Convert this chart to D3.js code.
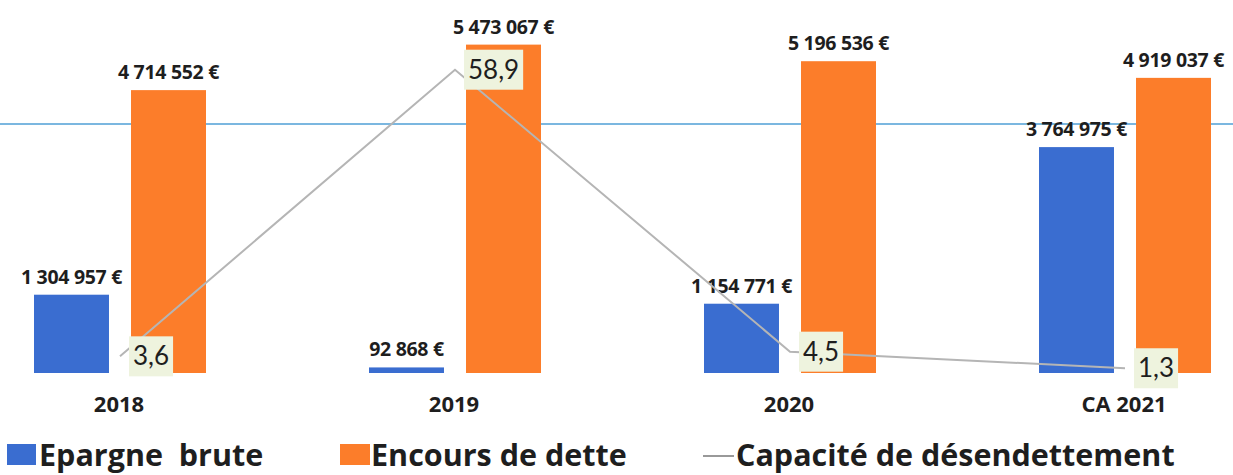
<!DOCTYPE html>
<html>
<head>
<meta charset="utf-8">
<script src="https://cdn.jsdelivr.net/npm/d3@7/dist/d3.min.js"></script>
<style>
  html, body { margin: 0; padding: 0; background: #fff; }
  svg { display: block; font-family: "Open Sans", Lato, sans-serif; }
  .val { font-weight: 700; font-size: 19.5px; fill: #1e1e1e; letter-spacing: -0.3px; }
  .cat { font-weight: 700; font-size: 22px; fill: #1e1e1e; }
  .ratio { font-family: Lato, sans-serif; font-size: 26px; fill: #1e1e1e; }
  .legend text { font-weight: 700; font-size: 30.5px; fill: #1e1e1e; }
</style>
</head>
<body>
<svg id="chart" width="1233" height="475"></svg>
<script>
// values
var categories = ['2018', '2019', '2020', 'CA 2021'];
var epargne = [1304957, 92868, 1154771, 3764975];
var encours = [4714552, 5473067, 5196536, 4919037];
var capacite = [3.6, 58.9, 4.5, 1.3];
var refValue = 4150000; // the light blue horizontal rule

var seriesNames = ['Epargne  brute', 'Encours de dette', 'Capacité de désendettement'];
var colors = {epargne: '#3a6dd0', encours: '#fc7d2a', line: '#b5b5b5', rule: '#4f9fd6'};

var svg = d3.select('#chart');

var x0 = d3.scaleBand()
  .domain(categories)
  .range([-47.5, 1292.5]);

var x1 = d3.scaleBand()
  .domain(['epargne', 'encours'])
  .range([0, 172])
  .paddingInner(0.227);

var y = d3.scaleLinear()
  .domain([0, 6000000])
  .range([373, 13]);

var y2 = d3.scaleLinear()
  .domain([0, 60])
  .range([375, 64]);

function center(c) { return x0(c) + x0.bandwidth() / 2; }
function fmt(v) { return d3.format(',')(v).replace(/,/g, ' ') + ' €'; }

var rows = categories.map(function (c, i) {
  return {cat: c, epargne: epargne[i], encours: encours[i], cap: capacite[i]};
});

// reference rule
svg.append('line')
  .attr('x1', 0).attr('x2', 1233)
  .attr('y1', y(refValue)).attr('y2', y(refValue))
  .attr('stroke', colors.rule)
  .attr('stroke-width', 1.5);

// bars
var groups = svg.selectAll('g.cat-group')
  .data(rows)
  .enter().append('g')
  .attr('class', 'cat-group')
  .attr('transform', function (d) { return 'translate(' + (center(d.cat) - 86) + ',0)'; });

['epargne', 'encours'].forEach(function (key) {
  groups.append('rect')
    .attr('x', x1(key))
    .attr('width', x1.bandwidth())
    .attr('y', function (d) { return y(d[key]); })
    .attr('height', function (d) { return y(0) - y(d[key]); })
    .attr('fill', colors[key]);

  groups.append('text')
    .attr('class', 'val')
    .attr('text-anchor', 'middle')
    .attr('x', x1(key) + x1.bandwidth() / 2)
    .attr('y', function (d) { return y(d[key]) - 11; })
    .text(function (d) { return fmt(d[key]); });
});

// category labels
svg.selectAll('text.cat')
  .data(categories)
  .enter().append('text')
  .attr('class', 'cat')
  .attr('text-anchor', 'middle')
  .attr('x', function (d) { return center(d) - 1; })
  .attr('y', 412)
  .text(function (d) { return d; });

// capacity line
var line = d3.line()
  .x(function (d) { return center(d.cat); })
  .y(function (d) { return y2(d.cap); });

svg.append('path')
  .datum(rows)
  .attr('d', line)
  .attr('fill', 'none')
  .attr('stroke', colors.line)
  .attr('stroke-width', 2);

// ratio labels in boxes, to the right of each point
var lab = svg.selectAll('g.ratio')
  .data(rows)
  .enter().append('g')
  .attr('class', 'ratio')
  .attr('transform', function (d) {
    return 'translate(' + (center(d.cat) + 9) + ',' + y2(d.cap) + ')';
  });

lab.append('rect')
  .attr('fill', '#eef3de');

lab.append('text')
  .attr('class', 'ratio')
  .attr('x', 4)
  .attr('y', 9)
  .text(function (d) { return d3.format('.1f')(d.cap).replace('.', ','); });

lab.each(function () {
  var g = d3.select(this);
  var w = g.select('text').node().getComputedTextLength();
  g.select('rect')
    .attr('x', 0).attr('y', -20)
    .attr('width', w + 8).attr('height', 40);
});

// legend
var legend = svg.append('g').attr('class', 'legend');
var legX = [7, 340, 703];

legend.append('rect')
  .attr('x', legX[0]).attr('y', 444).attr('width', 29).attr('height', 21)
  .attr('fill', colors.epargne);
legend.append('text')
  .attr('x', legX[0] + 32).attr('y', 466)
  .attr('xml:space', 'preserve')
  .style('white-space', 'pre')
  .text(seriesNames[0]);

legend.append('rect')
  .attr('x', legX[1]).attr('y', 444).attr('width', 30).attr('height', 21)
  .attr('fill', colors.encours);
legend.append('text')
  .attr('x', legX[1] + 31).attr('y', 466)
  .text(seriesNames[1]);

legend.append('line')
  .attr('x1', legX[2]).attr('x2', legX[2] + 31)
  .attr('y1', 456).attr('y2', 456)
  .attr('stroke', '#777')
  .attr('stroke-width', 1.5);
legend.append('text')
  .attr('x', legX[2] + 33).attr('y', 466)
  .text(seriesNames[2]);
</script>
</body>
</html>
